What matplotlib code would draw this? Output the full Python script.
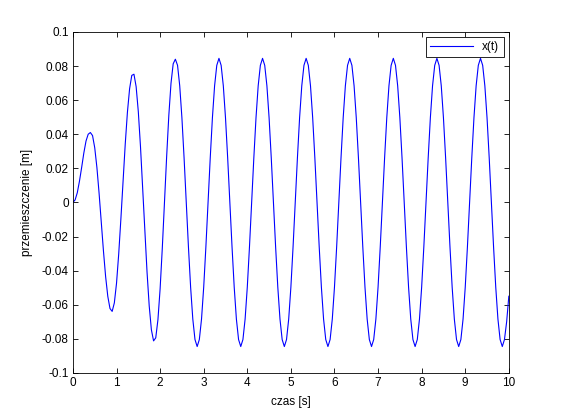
import matplotlib
matplotlib.use('Agg')
import matplotlib.pyplot as plt
import numpy as np

plt.rcParams['font.family'] = ['Liberation Sans', 'DejaVu Sans']

# sample times, every 0.05 s from 0 to 10 s
t = np.round(np.arange(0, 10.001, 0.05), 2)

# displacement, one row per second
x = [
    # 0.00 - 0.95
    0.0, 0.0015, 0.0057, 0.0125, 0.0205, 0.0290, 0.0360, 0.0400,
    0.0410, 0.0392, 0.0321, 0.0205, 0.0054, -0.0115, -0.0284, -0.0435,
    -0.0551, -0.0622, -0.0639, -0.0589,
    # 1.00 - 1.95
    -0.0474, -0.0303, -0.0097, 0.0126, 0.0342, 0.0529, 0.0667, 0.0745,
    0.0752, 0.0679, 0.0532, 0.0327, 0.0085, -0.0168, -0.0408, -0.0607,
    -0.0747, -0.0812, -0.0794, -0.0688,
    # 2.00 - 2.95
    -0.0507, -0.0269, -0.0001, 0.0269, 0.0511, 0.0699, 0.0813, 0.0840,
    0.0804, 0.0684, 0.0497, 0.0261, 0.0, -0.0261, -0.0497, -0.0684,
    -0.0804, -0.0845, -0.0804, -0.0684,
    # 3.00 - 3.95
    -0.0497, -0.0261, 0.0, 0.0261, 0.0497, 0.0684, 0.0804, 0.0845,
    0.0804, 0.0684, 0.0497, 0.0261, 0.0, -0.0261, -0.0497, -0.0684,
    -0.0804, -0.0845, -0.0804, -0.0684,
    # 4.00 - 4.95
    -0.0497, -0.0261, 0.0, 0.0261, 0.0497, 0.0684, 0.0804, 0.0845,
    0.0804, 0.0684, 0.0497, 0.0261, 0.0, -0.0261, -0.0497, -0.0684,
    -0.0804, -0.0845, -0.0804, -0.0684,
    # 5.00 - 5.95
    -0.0497, -0.0261, 0.0, 0.0261, 0.0497, 0.0684, 0.0804, 0.0845,
    0.0804, 0.0684, 0.0497, 0.0261, 0.0, -0.0261, -0.0497, -0.0684,
    -0.0804, -0.0845, -0.0804, -0.0684,
    # 6.00 - 6.95
    -0.0497, -0.0261, 0.0, 0.0261, 0.0497, 0.0684, 0.0804, 0.0845,
    0.0804, 0.0684, 0.0497, 0.0261, 0.0, -0.0261, -0.0497, -0.0684,
    -0.0804, -0.0845, -0.0804, -0.0684,
    # 7.00 - 7.95
    -0.0497, -0.0261, 0.0, 0.0261, 0.0497, 0.0684, 0.0804, 0.0845,
    0.0804, 0.0684, 0.0497, 0.0261, 0.0, -0.0261, -0.0497, -0.0684,
    -0.0804, -0.0845, -0.0804, -0.0684,
    # 8.00 - 8.95
    -0.0497, -0.0261, 0.0, 0.0261, 0.0497, 0.0684, 0.0804, 0.0845,
    0.0804, 0.0684, 0.0497, 0.0261, 0.0, -0.0261, -0.0497, -0.0684,
    -0.0804, -0.0845, -0.0804, -0.0684,
    # 9.00 - 9.95
    -0.0497, -0.0261, 0.0, 0.0261, 0.0497, 0.0684, 0.0804, 0.0845,
    0.0804, 0.0684, 0.0497, 0.0261, 0.0, -0.0261, -0.0497, -0.0684,
    -0.0804, -0.0845, -0.0804, -0.0700,
    # 10.00
    -0.0550,
]

xticks = [0, 1, 2, 3, 4, 5, 6, 7, 8, 9, 10]
yticks = [-0.1, -0.08, -0.06, -0.04, -0.02, 0, 0.02, 0.04, 0.06, 0.08, 0.1]
ylabels = ['-0.1', '-0.08', '-0.06', '-0.04', '-0.02', '0',
           '0.02', '0.04', '0.06', '0.08', '0.1']

fig = plt.figure(figsize=(5.61, 4.2), dpi=100)
ax = fig.add_axes([0.130, 0.112, 0.777, 0.812])

ax.plot(t, x, color='#0000ff', linewidth=0.8, label='x(t)')

ax.set_xlim(0, 10)
ax.set_ylim(-0.1, 0.1)
ax.set_xticks(xticks)
ax.set_xticklabels([str(v) for v in xticks])
ax.set_yticks(yticks)
ax.set_yticklabels(ylabels)
ax.tick_params(direction='in', length=3.5, width=0.6, top=True, right=True,
               labelsize=8.5, pad=3)
for s in ax.spines.values():
    s.set_linewidth(0.6)

ax.set_xlabel('czas [s]', fontsize=8.5, labelpad=5)
ax.set_ylabel('przemieszczenie [m]', fontsize=8.5, labelpad=6)

leg = ax.legend(loc='upper right', fontsize=8.5, fancybox=False,
                edgecolor='black', framealpha=1, borderaxespad=0.45,
                handlelength=3.6, borderpad=0.35)
leg.get_frame().set_linewidth(0.6)

plt.savefig('out.png', dpi=100)
